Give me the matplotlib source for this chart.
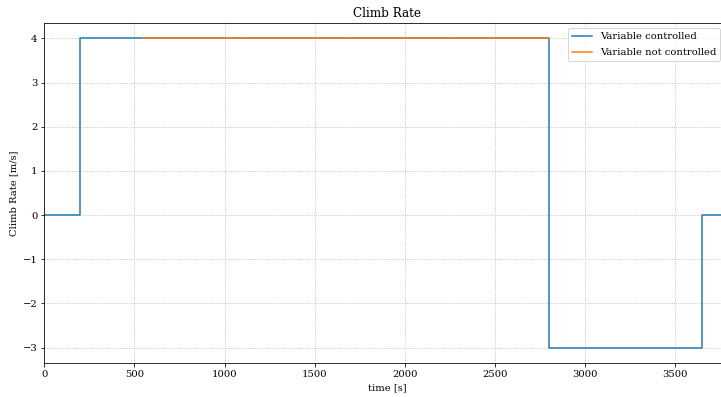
import matplotlib
matplotlib.use("Agg")
import matplotlib.pyplot as plt

plt.rcParams['font.family'] = ['DejaVu Serif']

# Data
t_controlled = [0, 200, 200, 2800, 2800, 3650, 3650, 3800]
rate_controlled = [0, 0, 4, 4, -3, -3, 0, 0]
t_not_controlled = [550, 2800]
rate_not_controlled = [4, 4]

fig = plt.figure(figsize=(721/72, 397/72), dpi=72)
ax = fig.add_axes([44.3/721, 1-363/397, (729.5-44.3)/721, (363-23)/397])

ax.plot(t_controlled, rate_controlled, color='#1f77b4', lw=1.5, label='Variable controlled')
ax.plot(t_not_controlled, rate_not_controlled, color='#ff7f0e', lw=1.5, label='Variable not controlled')

ax.set_xlim(0, 3800)
ax.set_title('Climb Rate')
ax.set_xlabel('time [s]')
ax.set_ylabel('Climb Rate [m/s]')
ax.grid(True, linestyle=':', color='#b0b0b0')
ax.legend(loc='upper right', bbox_to_anchor=(1 - 4/685, 1), labelspacing=0.7)

fig.savefig('out.png', dpi=72)
